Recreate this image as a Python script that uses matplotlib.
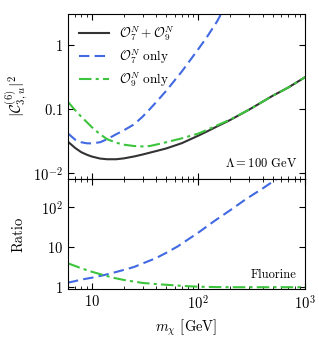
import numpy as np
import matplotlib
matplotlib.use("Agg")
import matplotlib.pyplot as plt
from matplotlib.ticker import FixedLocator, NullLocator, LogLocator, NullFormatter

plt.rcParams["font.family"] = "cmr10"
plt.rcParams["mathtext.fontset"] = "cm"
plt.rcParams["axes.unicode_minus"] = False
plt.rcParams["axes.formatter.use_mathtext"] = True

# Upper panel: |C|^2 vs m_chi
m_top = [6, 7, 8, 9, 10, 12, 14, 17, 20, 25, 30, 35, 40, 50, 70, 100, 120, 150, 200, 300, 500, 700, 1000]
c_both = [0.0306, 0.0245, 0.0210, 0.0192, 0.0180, 0.0167, 0.0163, 0.0163, 0.0168, 0.0180, 0.0193,
          0.0206, 0.0218, 0.0240, 0.0290, 0.0380, 0.0440, 0.0530, 0.0670, 0.0970, 0.160, 0.215, 0.310]
c_o9 = [0.128, 0.095, 0.075, 0.062, 0.052, 0.040, 0.0335, 0.0295, 0.0275, 0.0262, 0.0258,
        0.0262, 0.0275, 0.0300, 0.0345, 0.0410, 0.0465, 0.0550, 0.0680, 0.0970, 0.160, 0.215, 0.310]
m_o7 = [6, 7, 8, 9, 10, 12, 14, 17, 20, 25, 30, 35, 40, 50, 70, 100, 120, 150, 200]
c_o7 = [0.0412, 0.0330, 0.0300, 0.0289, 0.0288, 0.0300, 0.0335, 0.0400, 0.0460, 0.0570, 0.0750,
        0.0980, 0.125, 0.190, 0.380, 0.850, 1.30, 2.30, 5.60]

# Lower panel: ratio to the combined case
m_ratio = [6, 7, 8, 10, 13, 16, 20, 25, 30, 40, 50, 64, 80, 100, 140, 200, 280, 400, 560]
r_o7 = [1.30, 1.42, 1.55, 1.72, 2.0, 2.3, 2.7, 3.2, 3.9, 5.3, 7.2, 10.4, 15.5, 23, 44, 84, 158, 290, 530]
m_ratio9 = [6, 7, 8, 10, 13, 16, 20, 25, 30, 40, 50, 64, 80, 100, 140, 200, 400, 1000]
r_o9 = [3.94, 3.4, 2.96, 2.44, 2.0, 1.72, 1.52, 1.38, 1.28, 1.2, 1.15, 1.1, 1.06, 1.03, 1.01, 1.0, 1.0, 1.0]

col_k = "#333333"
col_b = "#4169e1"
col_g = "#3dc43d"

fig = plt.figure(figsize=(3.19, 3.47), dpi=100)
ax1 = fig.add_axes([0.213, 0.484, 0.743, 0.4755])
ax2 = fig.add_axes([0.213, 0.167, 0.743, 0.317], sharex=ax1)

ax1.plot(m_top, c_both, color=col_k, lw=1.5, label=r"$\mathcal{O}_7^N + \mathcal{O}_9^N$")
ax1.plot(m_o7, c_o7, color=col_b, lw=1.5, dashes=(5, 2.5), label=r"$\mathcal{O}_7^N$ only")
ax1.plot(m_top, c_o9, color=col_g, lw=1.5, dashes=(6, 2, 1.5, 2), label=r"$\mathcal{O}_9^N$ only")

ax2.plot(m_ratio, r_o7, color=col_b, lw=1.5, dashes=(5, 2.5))
ax2.plot(m_ratio9, r_o9, color=col_g, lw=1.5, dashes=(6, 2, 1.5, 2))

for ax in (ax1, ax2):
    ax.set_xscale("log")
    ax.set_yscale("log")
    ax.set_xlim(6, 1000)
    ax.tick_params(which="both", direction="in", top=True, right=True, labelsize=10.5)
    ax.tick_params(which="major", length=4)
    ax.tick_params(which="minor", length=2)
    ax.yaxis.set_minor_locator(NullLocator())
    ax.xaxis.set_minor_locator(LogLocator(base=10, subs=np.arange(2, 10)))
    ax.xaxis.set_minor_formatter(NullFormatter())

ax1.set_ylim(0.008, 3)
ax1.yaxis.set_major_locator(FixedLocator([0.01, 0.1, 1]))
ax1.set_yticklabels([r"$10^{-2}$", r"$0.1$", r"$1$"])
ax1.tick_params(labelbottom=False)
ax1.set_ylabel(r"$|\mathcal{C}_{3,u}^{(6)}|^2$", fontsize=11)
ax1.yaxis.set_label_coords(-0.16, 0.5)
ax1.legend(loc="upper left", frameon=False, fontsize=9.5, handlelength=2.3,
           borderaxespad=0.4, labelspacing=0.3)
ax1.text(0.965, 0.097, r"$\Lambda = 100$ GeV", transform=ax1.transAxes,
         ha="right", va="center", fontsize=9)

ax2.set_ylim(0.9, 500)
ax2.yaxis.set_major_locator(FixedLocator([1, 10, 100]))
ax2.set_yticklabels([r"$1$", r"$10$", r"$10^2$"])
ax2.xaxis.set_major_locator(FixedLocator([10, 100, 1000]))
ax2.set_xticklabels([r"$10$", r"$10^2$", r"$10^3$"])
ax2.set_ylabel("Ratio", fontsize=10.5)
ax2.yaxis.set_label_coords(-0.177, 0.5)
ax2.set_xlabel(r"$m_\chi$ [GeV]", fontsize=10.5)
ax2.text(0.965, 0.127, "Fluorine", transform=ax2.transAxes,
         ha="right", va="center", fontsize=9)

fig.savefig("out.png", dpi=100)
